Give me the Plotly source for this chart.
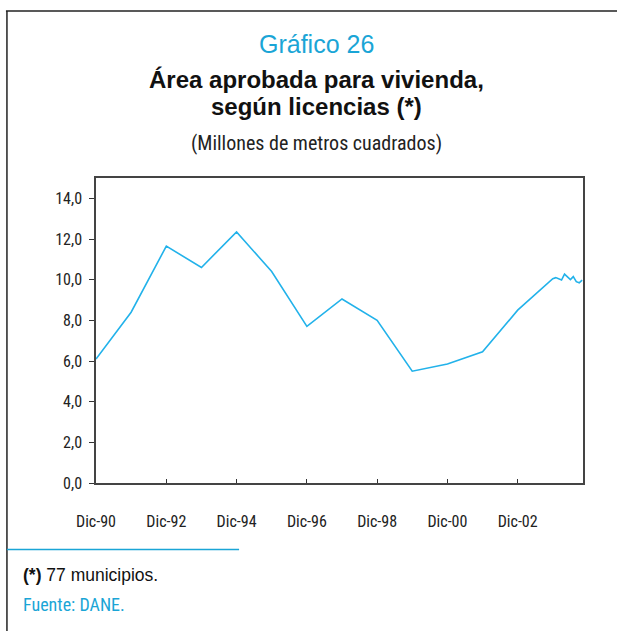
import plotly.graph_objects as go

# Data (millones de m2)
dates = ["1990-12-01", "1991-12-01", "1992-12-01", "1993-12-01", "1994-12-01",
         "1995-12-01", "1996-12-01", "1997-12-01", "1998-12-01", "1999-12-01",
         "2000-12-01", "2001-12-01", "2002-12-01", "2003-12-01",
         "2004-01-01", "2004-02-01", "2004-03-01", "2004-04-01", "2004-05-01",
         "2004-06-01", "2004-07-01", "2004-08-01", "2004-09-01", "2004-10-01"]
values = [6.1, 8.4, 11.65, 10.6, 12.35,
          10.4, 7.7, 9.05, 8.0, 5.5,
          5.85, 6.45, 8.5, 10.05,
          10.1, 10.05, 9.98, 10.27, 10.15,
          10.0, 10.15, 9.9, 9.85, 9.98]

tick_vals = ["1990-12-01", "1992-12-01", "1994-12-01", "1996-12-01",
             "1998-12-01", "2000-12-01", "2002-12-01"]
tick_text = ["Dic-90", "Dic-92", "Dic-94", "Dic-96", "Dic-98", "Dic-00", "Dic-02"]
y_ticks = [0, 2, 4, 6, 8, 10, 12, 14]

W, H = 617, 631
L, R, T, B = 96, 582.7, 178, 483
pw, ph = R - L, B - T

def px(x):
    return (x - L) / pw

def py(y):
    return (B - y) / ph

NARROW = "Liberation Sans Narrow, Roboto Condensed, Arial Narrow, sans-serif"
REG = "Liberation Sans, Arial, Helvetica, sans-serif"
CYAN = "#1aa5d6"

fig = go.Figure()
fig.add_trace(go.Scatter(x=dates, y=values, mode="lines",
                         line=dict(color="#22b2ea", width=1.6),
                         hoverinfo="skip", showlegend=False))

fig.update_layout(
    width=W, height=H,
    margin=dict(l=L, r=W - R, t=T, b=H - B),
    paper_bgcolor="white", plot_bgcolor="white",
    separators=",.",
    showlegend=False,
)
fig.update_xaxes(
    type="date", range=["1990-12-01", "2004-10-10"],
    tickvals=tick_vals, ticktext=tick_text,
    ticks="inside", ticklen=4, tickcolor="#333", tickwidth=1,
    showgrid=False, zeroline=False,
    showline=True, linecolor="#444", linewidth=1.5, mirror=True,
    tickfont=dict(family=NARROW, size=16, color="#222"),
    ticklabelstandoff=23,
)
fig.update_yaxes(
    range=[0, 15], tickvals=y_ticks, tickformat=".1f",
    ticks="outside", ticklen=5, tickcolor="#333", tickwidth=1,
    showgrid=False, zeroline=False,
    showline=True, linecolor="#444", linewidth=1.5, mirror=True,
    tickfont=dict(family=NARROW, size=16, color="#222"),
    ticklabelstandoff=4,
)

ann = [
    dict(text="Gráfico 26", x=px(316), y=py(44), font=dict(family=REG, size=25, color=CYAN)),
    dict(text="<b>Área aprobada para vivienda,</b>", x=px(316), y=py(79),
         font=dict(family=REG, size=24, color="#111")),
    dict(text="<b>según licencias (*)</b>", x=px(316), y=py(106),
         font=dict(family=REG, size=24, color="#111")),
    dict(text="(Millones de metros cuadrados)", x=px(316), y=py(143),
         font=dict(family=NARROW, size=20, color="#222")),
]
for a in ann:
    fig.add_annotation(xref="paper", yref="paper", showarrow=False,
                       xanchor="center", yanchor="middle", **a)

fig.add_annotation(xref="paper", yref="paper", showarrow=False, xanchor="left", yanchor="middle",
                   x=px(21), y=py(575), text="<b>(*)</b> 77 municipios.",
                   font=dict(family=REG, size=17.5, color="#111"))
fig.add_annotation(xref="paper", yref="paper", showarrow=False, xanchor="left", yanchor="middle",
                   x=px(21), y=py(604), text="Fuente: DANE.",
                   font=dict(family=NARROW, size=18, color=CYAN))

# Outer frame (top and left) and footnote rule
fig.add_shape(type="line", xref="paper", yref="paper", x0=px(6), x1=px(617), y0=py(11), y1=py(11),
              line=dict(color="#222", width=1.5))
fig.add_shape(type="line", xref="paper", yref="paper", x0=px(7), x1=px(7), y0=py(11), y1=py(631),
              line=dict(color="#222", width=1.5))
fig.add_shape(type="line", xref="paper", yref="paper", x0=px(7), x1=px(239), y0=py(549.5), y1=py(549.5),
              line=dict(color=CYAN, width=1.5))

fig.write_html("out.html", config={"displayModeBar": False},
               post_script="document.body.style.margin='0px';")
